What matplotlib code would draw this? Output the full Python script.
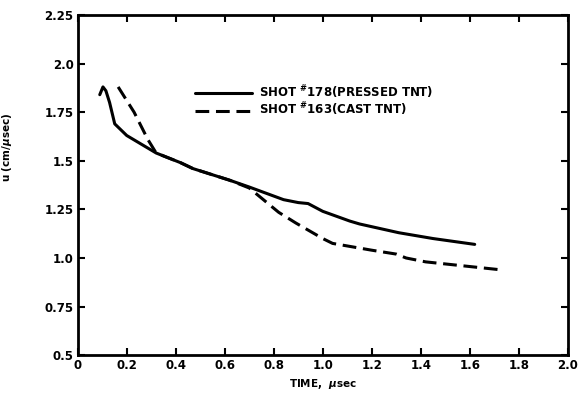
import numpy as np
import matplotlib
matplotlib.use("Agg")
import matplotlib.pyplot as plt

# shot 178, pressed TNT (solid)
t_178 = [0.09, 0.103, 0.115, 0.13, 0.151, 0.2, 0.32, 0.42, 0.47, 0.62, 0.70,
         0.84, 0.90, 0.94, 1.0, 1.11, 1.15, 1.31, 1.45, 1.62]
u_178 = [1.84, 1.88, 1.86, 1.80, 1.69, 1.63, 1.54, 1.49, 1.46, 1.40, 1.365,
         1.30, 1.285, 1.28, 1.24, 1.19, 1.175, 1.13, 1.10, 1.07]

# shot 163, cast TNT (dashed)
t_163 = [0.165, 0.23, 0.286, 0.32, 0.42, 0.47, 0.62, 0.70, 0.82, 0.89, 1.0,
         1.04, 1.2, 1.30, 1.34, 1.42, 1.72]
u_163 = [1.88, 1.75, 1.61, 1.54, 1.49, 1.46, 1.40, 1.36, 1.235, 1.18, 1.10,
         1.075, 1.04, 1.02, 1.0, 0.98, 0.94]

xticks = [0, 0.2, 0.4, 0.6, 0.8, 1.0, 1.2, 1.4, 1.6, 1.8, 2.0]
xlabels = ["0", "0.2", "0.4", "0.6", "0.8", "1.0", "1.2", "1.4", "1.6", "1.8", "2.0"]
yticks = [0.5, 0.75, 1.0, 1.25, 1.5, 1.75, 2.0, 2.25]
ylabels = ["0.5", "0.75", "1.0", "1.25", "1.5", "1.75", "2.0", "2.25"]

plt.rcParams['font.family'] = 'DejaVu Sans'
plt.rcParams['font.weight'] = 'bold'

fig = plt.figure(figsize=(5.8, 4.05), dpi=100)
ax = fig.add_axes([0.134, 0.123, 0.845, 0.84])

ax.plot(t_178, u_178, color='black', lw=2.2, solid_capstyle='round',
        label='SHOT $^{\\#}$178(PRESSED TNT)')
ax.plot(t_163, u_163, color='black', lw=2.2, ls=(0, (4.5, 2.2)),
        label='SHOT $^{\\#}$163(CAST TNT)')

ax.set_xlim(0, 2.0)
ax.set_ylim(0.5, 2.25)
ax.set_xticks(xticks)
ax.set_xticklabels(xlabels, fontsize=8.5, fontweight='bold')
ax.set_yticks(yticks)
ax.set_yticklabels(ylabels, fontsize=8.5, fontweight='bold')
ax.tick_params(direction='in', length=5, width=1.5, top=True, right=True,
               pad=3)
for s in ax.spines.values():
    s.set_linewidth(2)

ax.set_xlabel('TIME,  $\\mu$sec', fontsize=7.5, fontweight='bold', labelpad=3)
ax.set_ylabel('u (cm/$\\mu$sec)', fontsize=7.5, fontweight='bold')
ax.yaxis.set_label_coords(-0.129, 0.61)

leg = ax.legend(loc='upper left', bbox_to_anchor=(0.239, 0.80), frameon=False,
                handlelength=4.8, handletextpad=0.6, labelspacing=0.0,
                handleheight=0.5, borderaxespad=0, borderpad=0,
                prop={'size': 8.5, 'weight': 'bold'})

plt.savefig('out.png', dpi=100)
